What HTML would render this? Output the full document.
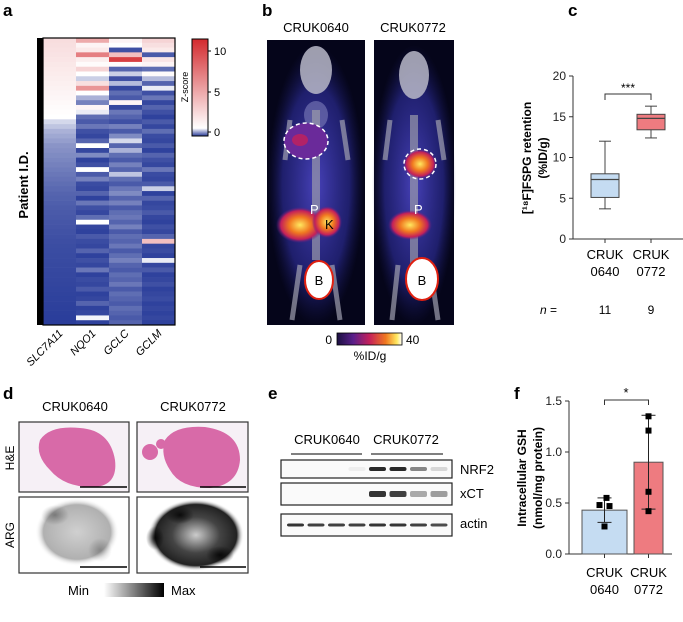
<!DOCTYPE html>
<html><head><meta charset="utf-8"><style>
body{margin:0;background:#fff;}
svg{display:block;font-family:"Liberation Sans",Arial,sans-serif;}
</style></head><body>
<svg id="fig" width="683" height="622" viewBox="0 0 683 622" xmlns="http://www.w3.org/2000/svg">
<defs>
<linearGradient id="zbar" x1="0" y1="1" x2="0" y2="0">
<stop offset="0" stop-color="#2a3d9a"/><stop offset="0.08" stop-color="#ffffff"/><stop offset="1" stop-color="#d32a2e"/>
</linearGradient>
<linearGradient id="petbar" x1="0" y1="0" x2="1" y2="0">
<stop offset="0" stop-color="#1a1040"/><stop offset="0.25" stop-color="#5a1f8a"/><stop offset="0.5" stop-color="#c4205a"/><stop offset="0.75" stop-color="#f07820"/><stop offset="0.92" stop-color="#ffe860"/><stop offset="1" stop-color="#ffffff"/>
</linearGradient>
<linearGradient id="argbar" x1="0" y1="0" x2="1" y2="0">
<stop offset="0" stop-color="#fff"/><stop offset="1" stop-color="#000"/>
</linearGradient>
<radialGradient id="glow"><stop offset="0" stop-color="#4a44c0" stop-opacity="0.95"/><stop offset="0.7" stop-color="#2a2a90" stop-opacity="0.7"/><stop offset="1" stop-color="#1a1a60" stop-opacity="0"/></radialGradient>
<radialGradient id="hot"><stop offset="0" stop-color="#ffe860"/><stop offset="0.45" stop-color="#f07820"/><stop offset="0.8" stop-color="#c4205a"/><stop offset="1" stop-color="#5a1f8a" stop-opacity="0"/></radialGradient>
<radialGradient id="argL"><stop offset="0" stop-color="#d0d0d0"/><stop offset="0.8" stop-color="#b0b0b0"/><stop offset="1" stop-color="#fff" stop-opacity="0"/></radialGradient>
<radialGradient id="argR"><stop offset="0" stop-color="#ccc"/><stop offset="0.5" stop-color="#444"/><stop offset="0.85" stop-color="#222"/><stop offset="1" stop-color="#fff" stop-opacity="0"/></radialGradient>
<radialGradient id="blob"><stop offset="0" stop-color="#000" stop-opacity="0.8"/><stop offset="1" stop-color="#000" stop-opacity="0"/></radialGradient>
</defs>

<g font-weight="bold" font-size="17">
<text x="3" y="16">a</text><text x="262" y="16">b</text><text x="568" y="16">c</text>
<text x="3" y="399">d</text><text x="268" y="399">e</text><text x="514" y="399">f</text>
</g>

<g id="heat">
<rect x="37" y="38" width="6" height="287" fill="#000"/>
<text transform="translate(28,185) rotate(-90)" text-anchor="middle" font-size="13" font-weight="bold">Patient I.D.</text>
<rect x="192" y="39" width="16" height="97" fill="url(#zbar)" stroke="#000" stroke-width="1"/>
<g font-size="11">
<line x1="208" y1="51" x2="211" y2="51" stroke="#000"/><text x="214" y="55">10</text>
<line x1="208" y1="92" x2="211" y2="92" stroke="#000"/><text x="214" y="96">5</text>
<line x1="208" y1="132" x2="211" y2="132" stroke="#000"/><text x="214" y="136">0</text>
</g>
<text transform="translate(188,87) rotate(-90)" text-anchor="middle" font-size="9">Z-score</text>
</g>

<g>
<text x="316" y="32" text-anchor="middle" font-size="13">CRUK0640</text>
<text x="413" y="32" text-anchor="middle" font-size="13">CRUK0772</text>
<g>
<rect x="267" y="40" width="98" height="285" fill="#05051a"/>
<ellipse cx="316" cy="185" rx="48" ry="140" fill="url(#glow)"/>
<ellipse cx="316" cy="70" rx="16" ry="24" fill="#b8b8c8" opacity="0.85"/>
<ellipse cx="316" cy="115" rx="12" ry="14" fill="#7070b0" opacity="0.7"/>
<path d="M290,120 L285,160 M342,120 L348,160 M300,265 L292,320 M332,265 L340,320" stroke="#a0a0b0" stroke-width="5" opacity="0.7"/>
<rect x="312" y="110" width="8" height="150" fill="#9a9aaa" opacity="0.7"/>
<ellipse cx="306" cy="141" rx="22" ry="18" fill="#6a2a9a"/>
<ellipse cx="300" cy="140" rx="8" ry="6" fill="#c4205a" opacity="0.8"/>
<ellipse cx="306" cy="141" rx="22" ry="18" fill="none" stroke="#fff" stroke-width="1.5" stroke-dasharray="4,3"/>
<ellipse cx="300" cy="225" rx="24" ry="18" fill="url(#hot)"/>
<ellipse cx="327" cy="222" rx="15" ry="16" fill="url(#hot)"/>
<text x="310" y="214" fill="#fff" font-size="13">P</text><text x="325" y="229" fill="#000" font-size="13">K</text>
<ellipse cx="319" cy="280" rx="14" ry="19" fill="#fff" stroke="#e02010" stroke-width="2"/>
<text x="319" y="285" text-anchor="middle" font-size="13">B</text>
</g>
<g>
<rect x="374" y="40" width="80" height="285" fill="#05051a"/>
<ellipse cx="414" cy="185" rx="42" ry="140" fill="url(#glow)"/>
<ellipse cx="414" cy="75" rx="15" ry="24" fill="#b8b8c8" opacity="0.85"/>
<path d="M390,120 L385,160 M438,120 L444,160 M398,265 L392,320 M430,265 L438,320" stroke="#a0a0b0" stroke-width="5" opacity="0.7"/>
<rect x="410" y="115" width="8" height="150" fill="#9a9aaa" opacity="0.7"/>
<ellipse cx="420" cy="164" rx="17" ry="15" fill="url(#hot)"/>
<ellipse cx="420" cy="164" rx="16" ry="15" fill="none" stroke="#fff" stroke-width="1.5" stroke-dasharray="4,3"/>
<ellipse cx="410" cy="225" rx="22" ry="15" fill="url(#hot)"/>
<text x="414" y="214" fill="#fff" font-size="13">P</text>
<ellipse cx="422" cy="279" rx="16" ry="21" fill="#fff" stroke="#e02010" stroke-width="2"/>
<text x="422" y="285" text-anchor="middle" font-size="13">B</text>
</g>
<rect x="337" y="333" width="65" height="12" fill="url(#petbar)" stroke="#000" stroke-width="0.8"/>
<text x="332" y="344" text-anchor="end" font-size="12">0</text>
<text x="406" y="344" font-size="12">40</text>
<text x="370" y="360" text-anchor="middle" font-size="12">%ID/g</text>
</g>

<g id="boxc">
<text transform="translate(531,158) rotate(-90)" text-anchor="middle" font-size="12" font-weight="bold">[¹⁸F]FSPG retention</text>
<text transform="translate(547,158) rotate(-90)" text-anchor="middle" font-size="12" font-weight="bold">(%ID/g)</text>
<text x="540" y="314" font-size="12" font-style="italic">n</text><text x="550" y="314" font-size="12">=</text>
<text x="605" y="314" text-anchor="middle" font-size="12">11</text><text x="651" y="314" text-anchor="middle" font-size="12">9</text>
</g>

<g>
<text x="75" y="411" text-anchor="middle" font-size="13">CRUK0640</text>
<text x="193" y="411" text-anchor="middle" font-size="13">CRUK0772</text>
<text transform="translate(14,458) rotate(-90)" text-anchor="middle" font-size="12">H&amp;E</text>
<text transform="translate(14,535) rotate(-90)" text-anchor="middle" font-size="12">ARG</text>
<rect x="19" y="422" width="110" height="70" fill="#f6f0f6" stroke="#333" stroke-width="1.2"/>
<path d="M40,440 Q50,425 80,428 Q110,430 115,460 Q118,485 95,487 Q65,488 50,470 Q35,455 40,440Z" fill="#d86aa8"/>
<line x1="80" y1="487" x2="127" y2="487" stroke="#000" stroke-width="1.5"/>
<rect x="137" y="422" width="111" height="70" fill="#f6f0f6" stroke="#333" stroke-width="1.2"/>
<path d="M165,440 Q175,425 205,427 Q240,432 240,460 Q238,485 210,488 Q180,488 170,470 Q160,455 165,440Z" fill="#d86aa8"/>
<circle cx="150" cy="452" r="8" fill="#d86aa8"/><circle cx="161" cy="444" r="5" fill="#d86aa8"/>
<line x1="200" y1="487" x2="246" y2="487" stroke="#000" stroke-width="1.5"/>
<rect x="19" y="497" width="110" height="76" fill="#fff" stroke="#333" stroke-width="1.2"/>
<ellipse cx="77" cy="532" rx="42" ry="34" fill="url(#argL)"/>
<ellipse cx="55" cy="515" rx="14" ry="10" fill="url(#blob)" opacity="0.4"/>
<ellipse cx="100" cy="550" rx="12" ry="12" fill="url(#blob)" opacity="0.3"/>
<line x1="80" y1="567" x2="127" y2="567" stroke="#000" stroke-width="1.5"/>
<rect x="137" y="497" width="111" height="76" fill="#fff" stroke="#333" stroke-width="1.2"/>
<ellipse cx="196" cy="535" rx="48" ry="36" fill="url(#argR)"/>
<ellipse cx="155" cy="538" rx="9" ry="12" fill="url(#blob)"/>
<ellipse cx="180" cy="515" rx="14" ry="9" fill="url(#blob)"/>
<ellipse cx="220" cy="555" rx="14" ry="9" fill="url(#blob)"/>
<line x1="200" y1="567" x2="246" y2="567" stroke="#000" stroke-width="1.5"/>
<text x="68" y="595" font-size="13">Min</text>
<rect x="104" y="583" width="60" height="14" fill="url(#argbar)"/>
<text x="171" y="595" font-size="13">Max</text>
</g>

<g>
<text x="327" y="444" text-anchor="middle" font-size="13">CRUK0640</text>
<text x="406" y="444" text-anchor="middle" font-size="13">CRUK0772</text>
<line x1="291" y1="454" x2="362" y2="454" stroke="#000"/><line x1="371" y1="454" x2="443" y2="454" stroke="#000"/>
<rect x="281" y="460" width="171" height="18" fill="#fafafa" stroke="#222" stroke-width="1.2"/>
<rect x="281" y="483" width="171" height="22" fill="#fafafa" stroke="#222" stroke-width="1.2"/>
<rect x="281" y="514" width="171" height="22" fill="#fafafa" stroke="#222" stroke-width="1.2"/>
<g id="bands"></g>
<text x="460" y="474" font-size="13">NRF2</text>
<text x="460" y="498" font-size="13">xCT</text>
<text x="460" y="528" font-size="13">actin</text>
</g>

<g id="barf">
<text transform="translate(526,478) rotate(-90)" text-anchor="middle" font-size="12" font-weight="bold">Intracellular GSH</text>
<text transform="translate(542,478) rotate(-90)" text-anchor="middle" font-size="12" font-weight="bold">(nmol/mg protein)</text>
</g>
</svg>
<script>
const heatGenes = ["SLC7A11","NQO1","GCLC","GCLM"];
const heatSLC7A11 = [2.6,2.5,2.4,2.3,2.2,2.1,2.0,1.9,1.8,1.7,1.6,1.5,1.4,1.3,1.2,1.1,1.0,0.6,0.4,0.2,0.1,0.0,-0.1,-0.15,-0.2,-0.25,-0.3,-0.35,-0.4,-0.45,-0.5,-0.55,-0.6,-0.62,-0.65,-0.68,-0.7,-0.72,-0.74,-0.76,-0.78,-0.8,-0.82,-0.84,-0.85,-0.86,-0.87,-0.88,-0.89,-0.9,-0.91,-0.92,-0.93,-0.94,-0.95,-0.96,-0.97,-0.98,-0.99,-1.0];
const heatNQO1 = [5,1.5,2,7,1.8,1.2,3,1,0.5,2.5,6,1,0.2,-0.3,1.5,0.8,-0.5,-0.7,-0.4,-0.8,-0.9,-0.6,1.0,-0.9,-0.2,-0.95,-0.8,1,-0.7,-0.3,-0.85,-0.9,-0.6,-0.95,-0.4,-0.8,-0.9,-0.5,1,-0.9,-0.95,-0.7,-0.85,-0.9,-0.6,-0.95,-0.8,-0.9,-0.4,-0.95,-0.85,-0.9,-0.7,-0.95,-0.9,-0.6,-0.95,-0.9,0.9,-0.95];
const heatGCLC = [1.5,1,-0.8,4,10,1.2,-0.6,0.5,-0.8,0.3,-0.9,-0.5,-0.7,1.5,-0.9,-0.4,-0.6,-0.8,-0.3,-0.7,-0.2,0.6,-0.6,0.2,-0.5,-0.7,-0.3,-0.6,0.4,-0.5,-0.7,-0.4,-0.2,-0.6,-0.3,-0.7,-0.5,-0.4,-0.6,-0.3,-0.7,-0.5,-0.6,-0.4,-0.7,-0.5,-0.3,-0.6,-0.7,-0.5,-0.6,-0.4,-0.7,-0.5,-0.6,-0.7,-0.5,-0.6,-0.7,-0.6];
const heatGCLM = [3,2.5,2,-0.7,2.2,1.5,-0.5,1.2,0.3,-0.6,0.8,-0.8,-0.4,-0.9,-0.6,-0.8,-0.95,-0.7,-0.9,-0.5,-0.85,-0.9,-0.7,-0.95,-0.6,-0.8,-0.9,-0.4,-0.85,-0.9,-0.7,0.5,-0.95,-0.6,-0.9,-0.85,-0.7,-0.9,-0.95,-0.8,-0.9,-0.6,4,-0.9,-0.85,-0.95,0.8,-0.9,-0.7,-0.95,-0.9,-0.8,-0.95,-0.9,-0.85,-0.95,-0.9,-0.95,-0.9,-0.95];
const boxGroups = ["CRUK0640","CRUK0772"];
const boxMin = [3.7,12.4];
const boxQ1 = [5.1,13.4];
const boxMed = [7.3,14.8];
const boxQ3 = [8.0,15.3];
const boxMax = [12.0,16.3];
const boxTicks = [0,5,10,15,20];
const bandNRF2 = [0,0,0,0.05,0.9,0.9,0.5,0.15];
const bandXCT = [0,0,0,0,0.85,0.8,0.35,0.4];
const bandActin = [0.85,0.8,0.8,0.8,0.85,0.85,0.8,0.75];
const barMeans = [0.43,0.90];
const barErrLo = [0.31,0.44];
const barErrHi = [0.55,1.36];
const barPts0 = [0.55,0.48,0.47,0.27];
const barPts1 = [1.35,1.21,0.61,0.42];
const barTicks = [0,0.5,1.0,1.5];

const NS="http://www.w3.org/2000/svg";
function mk(tag,attrs,parent){const e=document.createElementNS(NS,tag);for(const k in attrs)e.setAttribute(k,attrs[k]);parent.appendChild(e);return e;}

function zcol(v){
  const blue=[42,61,154],white=[255,255,255],red=[211,42,46];
  let a,b,t;
  if(v<1){t=Math.max(0,Math.min(1,(v+1)/2));a=blue;b=white;}else{t=Math.min(1,(v-1)/10);a=white;b=red;}
  return 'rgb('+a.map((c,i)=>Math.round(c+(b[i]-c)*t)).join(',')+')';
}
const heat=document.getElementById('heat');
const hx0=43,hy0=38,hw=132,hh=287;
const cols=[heatSLC7A11,heatNQO1,heatGCLC,heatGCLM];
const cw=hw/heatGenes.length;
cols.forEach((col,ci)=>{
  const rh=hh/col.length;
  col.forEach((v,ri)=>{
    const r=mk('rect',{x:hx0+ci*cw,y:hy0+ri*rh,width:cw+0.3,height:rh+0.3,fill:zcol(v)},heat);
    
    
  });
  const t=mk('text',{transform:'translate('+(hx0+ci*cw+cw/2+4)+',334) rotate(-45)','text-anchor':'end','font-size':'11','font-style':'italic'},heat);
  t.textContent=heatGenes[ci];
  
  
});
mk('rect',{x:hx0,y:hy0,width:hw,height:hh,fill:'none',stroke:'#000','stroke-width':1.2},heat);

const boxc=document.getElementById('boxc');
const cy=v=>239-v*8.15; const cxs=[605,651];
mk('line',{x1:573,y1:cy(20),x2:573,y2:239,stroke:'#333'},boxc);
mk('line',{x1:573,y1:239,x2:683,y2:239,stroke:'#333'},boxc);
boxTicks.forEach(t=>{mk('line',{x1:569,y1:cy(t),x2:573,y2:cy(t),stroke:'#333'},boxc);
  const tx=mk('text',{x:566,y:cy(t)+4,'text-anchor':'end','font-size':'12',fill:'#222'},boxc);tx.textContent=t;
  
  });
const fills=['#c5dcf2','#ee7b80'];
boxGroups.forEach((g,i)=>{
  const x=cxs[i],w=28;
  mk('line',{x1:x,y1:239,x2:x,y2:243,stroke:'#333'},boxc);
  mk('line',{x1:x,y1:cy(boxMin[i]),x2:x,y2:cy(boxMax[i]),stroke:'#444'},boxc);
  mk('line',{x1:x-6,y1:cy(boxMin[i]),x2:x+6,y2:cy(boxMin[i]),stroke:'#444'},boxc);
  mk('line',{x1:x-6,y1:cy(boxMax[i]),x2:x+6,y2:cy(boxMax[i]),stroke:'#444'},boxc);
  const b=mk('rect',{x:x-w/2,y:cy(boxQ3[i]),width:w,height:cy(boxQ1[i])-cy(boxQ3[i]),fill:fills[i],stroke:'#444'},boxc);
  
  
  mk('line',{x1:x-w/2,y1:cy(boxMed[i]),x2:x+w/2,y2:cy(boxMed[i]),stroke:'#444','stroke-width':1.3},boxc);
  const t1=mk('text',{x:x,y:259,'text-anchor':'middle','font-size':'13'},boxc);t1.textContent=g.slice(0,4);
  const t2=mk('text',{x:x,y:276,'text-anchor':'middle','font-size':'13'},boxc);t2.textContent=g.slice(4);
});
mk('path',{d:'M605,100 V94 H651 V100',fill:'none',stroke:'#333'},boxc);
const st=mk('text',{x:628,y:92,'text-anchor':'middle','font-size':'12'},boxc);st.textContent='***';

const bands=document.getElementById('bands');
const laneX=i=>295+i*20.5;
[[bandNRF2,469,4],[bandXCT,494,6],[bandActin,525,3]].forEach(([arr,y,h])=>{
  arr.forEach((v,i)=>{if(v<=0)return;
    const r=mk('rect',{x:laneX(i)-8,y:y-h/2,width:17,height:h,rx:2,fill:'#111',opacity:v},bands);
    
    });
});

const barf=document.getElementById('barf');
const fy=v=>554-v*102; const fxs=[604.5,648.5]; const bw=[45,29];
mk('line',{x1:569,y1:fy(1.5),x2:569,y2:554,stroke:'#333'},barf);
mk('line',{x1:569,y1:554,x2:672,y2:554,stroke:'#333'},barf);
barTicks.forEach(t=>{mk('line',{x1:565,y1:fy(t),x2:569,y2:fy(t),stroke:'#333'},barf);
  const tx=mk('text',{x:562,y:fy(t)+4,'text-anchor':'end','font-size':'12',fill:'#222'},barf);tx.textContent=t.toFixed(1);
  
  });
[barPts0,barPts1].forEach((pts,i)=>{
  const x=fxs[i];
  const b=mk('rect',{x:x-bw[i]/2,y:fy(barMeans[i]),width:bw[i],height:554-fy(barMeans[i]),fill:fills[i],stroke:'#555'},barf);
  
  
  mk('line',{x1:x,y1:554,x2:x,y2:558,stroke:'#333'},barf);
  mk('line',{x1:x,y1:fy(barErrLo[i]),x2:x,y2:fy(barErrHi[i]),stroke:'#222'},barf);
  mk('line',{x1:x-7,y1:fy(barErrLo[i]),x2:x+7,y2:fy(barErrLo[i]),stroke:'#222'},barf);
  mk('line',{x1:x-7,y1:fy(barErrHi[i]),x2:x+7,y2:fy(barErrHi[i]),stroke:'#222'},barf);
  const offs=i===0?[2,-5,5,0]:[0,0,0,0];
  pts.forEach((p,j)=>{const m=mk('rect',{x:x+offs[j]-3,y:fy(p)-3,width:6,height:6,fill:'#000'},barf);
    
    });
  const t1=mk('text',{x:x,y:577,'text-anchor':'middle','font-size':'13'},barf);t1.textContent=boxGroups[i].slice(0,4);
  const t2=mk('text',{x:x,y:594,'text-anchor':'middle','font-size':'13'},barf);t2.textContent=boxGroups[i].slice(4);
});
mk('path',{d:'M604.5,405 V400 H648.5 V405',fill:'none',stroke:'#333'},barf);
const st2=mk('text',{x:626,y:397,'text-anchor':'middle','font-size':'13'},barf);st2.textContent='*';
</script>
</body></html>
